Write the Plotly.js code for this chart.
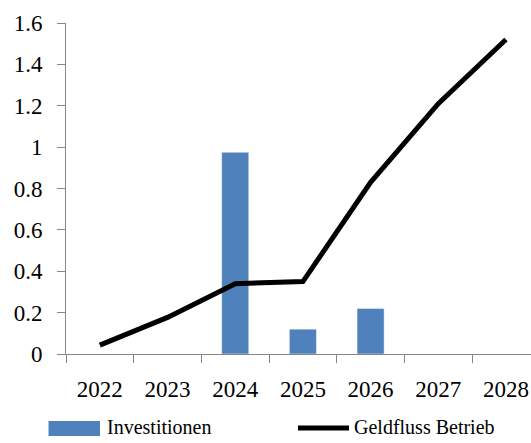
<!DOCTYPE html>
<html><head><meta charset="utf-8">
<script src="https://cdn.plot.ly/plotly-3.0.1.min.js"></script>
<style>html,body{margin:0;padding:0;background:#fff;}#chart{width:531px;height:443px;}</style>
</head><body><div id="chart"></div>
<script>
const years = ['2022','2023','2024','2025','2026','2027','2028'];
const investitionen = [null, null, 0.975, 0.12, 0.22, null, null];
const geldfluss = [0.043, 0.177, 0.34, 0.35, 0.83, 1.21, 1.52];
const seriesNames = ['Investitionen', 'Geldfluss Betrieb'];
const yTicks = [0, 0.2, 0.4, 0.6, 0.8, 1, 1.2, 1.4, 1.6];
const yTickText = ['0', '0.2', '0.4', '0.6', '0.8', '1', '1.2', '1.4', '1.6'];

const barColor = '#4F81BD';
const fontFam = '"Liberation Serif", "Times New Roman", serif';
const axisGray = '#868686';

const plotTop = 23, plotBottom = 354, plotLeft = 66, plotW = 465;
const H = plotBottom - plotTop;
const py = p => (plotBottom - p) / H;
const px = p => (p - plotLeft) / plotW;

const traces = [
  {type: 'bar', x: years, y: investitionen, name: seriesNames[0], width: 0.4,
   marker: {color: barColor, line: {color: 'rgba(255,255,255,0.45)', width: 1}},
   showlegend: false, hoverinfo: 'x+y'},
  {type: 'scatter', mode: 'lines', x: years, y: geldfluss, name: seriesNames[1],
   line: {color: '#000', width: 5}, showlegend: false}
];

const legendTop = 414;
const layout = {
  width: 531, height: 443,
  margin: {l: plotLeft, r: 0, t: plotTop, b: 443 - plotBottom, pad: 0},
  paper_bgcolor: '#fff', plot_bgcolor: '#fff',
  font: {family: fontFam, color: '#000', size: 23},
  showlegend: false,
  xaxis: {type: 'category', range: [-0.5, 6.37], showline: true, linecolor: axisGray, linewidth: 1,
          ticks: 'outside', tickson: 'boundaries', ticklen: 8, tickcolor: axisGray, tickwidth: 1,
          showgrid: false, zeroline: false, tickfont: {family: fontFam, size: 23, color: '#000'},
          ticklabelstandoff: 14, fixedrange: true},
  yaxis: {range: [0, 1.6], tickvals: yTicks, ticktext: yTickText, showline: true, linecolor: axisGray,
          linewidth: 1, ticks: 'outside', ticklen: 8, tickcolor: axisGray, tickwidth: 1,
          showgrid: false, zeroline: false, tickfont: {family: fontFam, size: 23, color: '#000'},
          ticklabelstandoff: 10, fixedrange: true},
  shapes: [
    {type: 'rect', xref: 'paper', yref: 'paper', x0: px(48.5), x1: px(100), y0: py(legendTop + 22), y1: py(legendTop + 7),
     fillcolor: barColor, line: {width: 0}},
    {type: 'line', xref: 'paper', yref: 'paper', x0: px(298), x1: px(349), y0: py(legendTop + 14), y1: py(legendTop + 14),
     line: {color: '#000', width: 5}}
  ],
  annotations: [
    {xref: 'paper', yref: 'paper', x: px(105), y: py(legendTop), xanchor: 'left', yanchor: 'top',
     text: seriesNames[0], showarrow: false, font: {family: fontFam, size: 20, color: '#000'}},
    {xref: 'paper', yref: 'paper', x: px(352), y: py(legendTop), xanchor: 'left', yanchor: 'top',
     text: seriesNames[1], showarrow: false, font: {family: fontFam, size: 20, color: '#000'}}
  ]
};

Plotly.newPlot('chart', traces, layout, {displayModeBar: false, responsive: false});
</script>
</body></html>
